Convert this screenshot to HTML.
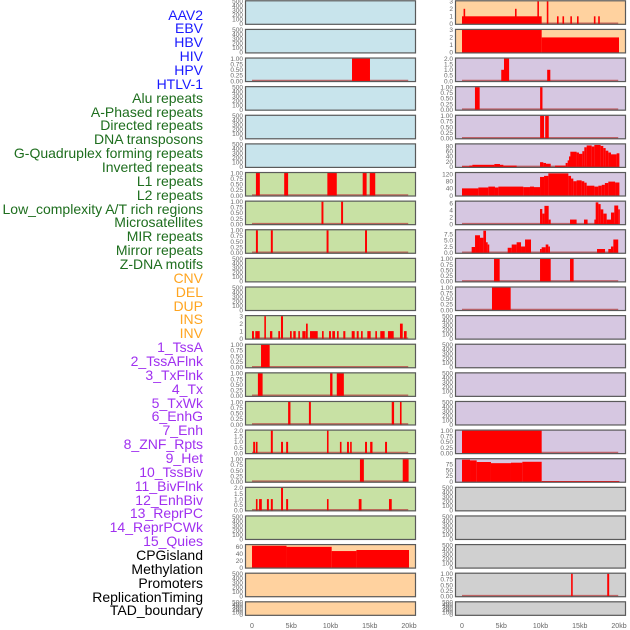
<!DOCTYPE html>
<html><head><meta charset="utf-8">
<style>
html,body{margin:0;padding:0;background:#fff;}
#wrap{position:relative;width:630px;height:630px;overflow:hidden;}
.lbl{position:absolute;right:427px;font-family:"Liberation Sans",sans-serif;font-size:14px;line-height:14px;white-space:nowrap;}
svg{position:absolute;left:0;top:0;}
</style></head>
<body>
<div id="wrap">
<svg id="chart" width="630" height="630"></svg>
</div>
<script>
// ---- labels ----
const labelNames = ["AAV2","EBV","HBV","HIV","HPV","HTLV-1","Alu repeats","A-Phased repeats","Directed repeats","DNA transposons","G-Quadruplex forming repeats","Inverted repeats","L1 repeats","L2 repeats","Low_complexity A/T rich regions","Microsatellites","MIR repeats","Mirror repeats","Z-DNA motifs","CNV","DEL","DUP","INS","INV","1_TssA","2_TssAFlnk","3_TxFlnk","4_Tx","5_TxWk","6_EnhG","7_Enh","8_ZNF_Rpts","9_Het","10_TssBiv","11_BivFlnk","12_EnhBiv","13_ReprPC","14_ReprPCWk","15_Quies","CPGisland","Methylation","Promoters","ReplicationTiming","TAD_boundary"];
const labelGroups = [6,13,5,15,5];
const groupColors = ["#1a1aff","#1e6e1e","#ffa520","#a030f0","#000000"];

// ---- x axis ----
const xTicks = [0,5,10,15,20];
const xTickLabels = ["0","5kb","10kb","15kb","20kb"];

// ---- track data: [start_kb, end_kb, value] ----
const leftHIV = [[12.74,15.03,1]];
const leftL1 = [[0.5,1.0,1],[4.1,4.6,1],[9.6,10.8,1],[14.1,14.6,1],[15.0,15.7,1]];
const leftL2 = [[8.85,9.1,1],[11.35,11.6,1]];
const leftLow = [[0.5,0.75,1],[2.4,2.65,1],[9.5,9.75,1],[14.4,14.65,1]];
const leftINS = [[0,0.25,1],[0.42,0.98,1],[1.57,1.75,3],[2.29,2.59,1],[3.35,3.57,1],[3.69,3.95,3],[4.84,5.06,1],[5.26,5.57,1],[5.9,6.08,1],[6.41,6.84,1],[6.88,7.1,2],[7.39,8.37,1],[8.92,9.13,1],[9.81,10.06,1],[10.23,10.57,1],[10.83,11.04,1],[11.63,11.89,1],[12.7,13.08,1],[13.34,13.59,1],[13.89,14.1,1],[14.69,15.12,1],[15.71,15.92,1],[16.34,16.9,1],[17.32,18.05,1],[18.85,19.2,2],[19.36,19.7,1]];
const leftINV = [[1.15,2.25,1]];
const leftTssA = [[0.75,1.35,1],[9.95,10.25,1],[10.8,11.7,1]];
const leftTssAFlnk = [[4.6,4.9,1],[7.25,7.5,1],[17.8,18.1,1],[18.85,19.05,1]];
const leftTxFlnk = [[0.15,0.4,1],[0.5,0.7,1],[2.4,2.65,2],[3.7,3.95,1],[4.35,4.6,1],[9.55,9.75,2],[11.2,11.4,1],[12.1,12.35,1],[12.5,12.7,1],[14.4,14.65,1],[15.05,15.35,1],[16.95,17.2,1]];
const leftTx = [[13.75,14.25,1],[19.2,19.95,1]];
const leftTxWk = [[0.5,0.7,1],[0.9,1.25,1],[1.9,2.15,1],[2.4,2.65,1],[3.7,3.95,2],[4.35,4.6,1],[9.55,9.75,1],[13.6,13.95,1],[17.45,17.8,1]];
const leftCPG = [[0,4.4,62],[4.4,10.15,59],[10.15,13.3,47],[13.3,20,50]];

const rightA0 = [[0,10.15,1],[0.2,0.3,2],[6.75,6.9,2],[9.6,9.7,3],[10.8,11.0,3],[12.1,12.3,1],[12.8,13.0,1],[13.8,14.0,1],[14.65,14.85,1],[16.8,17.0,1],[17.35,17.55,1]];
const rightA1 = [[0,10.15,3],[10.15,20,2]];
const rightA2 = [[5.0,5.35,1],[5.35,6.0,2],[10.85,11.25,1]];
const rightA3 = [[1.65,2.25,1],[9.95,10.25,1]];
const rightA4 = [[9.95,10.45,1],[10.6,11.05,1]];
const rightA5 = [[0,0.93,2],[0.93,1.32,5],[1.32,4.12,8],[4.12,4.84,11],[4.84,5.27,8],[5.27,6.96,5],[9.94,10.36,18],[10.36,10.7,15],[10.7,11.3,12],[11.85,13.2,5],[13.2,13.46,15],[13.46,13.63,25],[13.63,13.8,40],[13.8,14.6,58],[14.6,14.9,55],[14.9,15.33,50],[15.33,15.58,60],[15.58,15.88,75],[15.88,16.52,82],[16.52,16.86,78],[16.86,17.66,84],[17.66,18.0,80],[18.0,18.3,72],[18.3,18.64,62],[18.64,18.98,55],[18.98,19.7,48],[19.7,20.05,52]];
const rightA6 = [[0,2.08,40],[2.08,3.35,45],[3.35,4.2,50],[4.2,4.63,45],[4.63,7.81,50],[7.81,8.66,47],[8.66,9.17,50],[9.17,9.94,47],[9.94,10.45,104],[10.45,11.0,110],[11.0,13.55,124],[13.55,13.89,110],[13.89,14.18,95],[14.18,14.6,80],[14.6,15.24,85],[15.24,15.58,80],[15.58,15.88,72],[15.88,16.86,55],[16.86,17.37,50],[17.37,17.8,55],[17.8,18.2,60],[18.2,18.64,70],[18.64,19.5,78],[19.5,20.05,73]];
const rightA7 = [[9.94,10.23,4.3],[10.23,10.5,3],[10.5,11.04,5.2],[11.04,11.3,1.3],[13.76,14.6,1.3],[15.54,16.0,1.3],[16.86,17.03,1.3],[17.03,17.37,6.2],[17.37,17.66,5.7],[17.66,18.0,4.2],[18.0,18.43,3],[18.43,18.98,1.3],[18.98,19.4,3.3],[19.4,19.9,5.3],[19.9,20.05,4.2]];
const rightA8 = [[1.23,1.66,2.3],[1.66,2.29,7],[2.29,2.72,6],[2.72,3.06,8.8],[3.06,3.27,4.2],[3.27,3.44,3.3],[5.82,6.33,2],[6.33,6.96,3.3],[6.96,7.52,4.2],[7.52,8.03,2.5],[8.03,8.79,5.3],[9.94,10.15,1.5],[10.15,10.66,2.2],[10.66,11.0,3.3],[11.0,11.17,2.5],[17.2,18.22,1.5],[18.64,18.98,1.5],[18.98,19.28,2.5],[19.28,19.9,5.3]];
const rightA9 = [[4.08,4.8,1],[9.94,11.3,1],[13.76,14.22,1]];
const rightA10 = [[3.82,6.2,1]];
const rightA15 = [[0,10.15,1]];
const rightA16 = [[0,1.02,95],[1.02,1.87,92],[1.87,3.69,85],[3.69,6.24,80],[6.24,7.69,82],[7.69,10.15,86],[10.15,20.05,3]];
const rightA20 = [[13.9,14.1,1],[18.5,18.75,1]];

// ---- y tick sets ----
const tEmpty = [0,100,200,300,400,500];
const tBin = [0,0.25,0.5,0.75,1];
const t3 = [0,1,2,3];
const t2 = [0,0.5,1,1.5,2];

const BLUE="#c8e4ec", GREEN="#c8e1a4", PEACH="#ffd29f", PURPLE="#d6c7e1", GREY="#d0d0d0";
// column, row, bg, data, ymax, ticks, tick decimals, baseline
const panels = [];
function P(col,row,bg,data,ymax,ticks,dec,base){panels.push({col,row,bg,data,ymax,ticks,dec,base});}
for(let r=0;r<6;r++) P(0,r,BLUE,null,500,tEmpty,0,false);
panels[2]={col:0,row:2,bg:BLUE,data:leftHIV,ymax:1,ticks:tBin,dec:2,base:true};
for(let r=6;r<19;r++) P(0,r,GREEN,null,500,tEmpty,0,false);
function setL(row,data,ymax,ticks,dec){const p=panels.find(q=>q.col===0&&q.row===row);p.data=data;p.ymax=ymax;p.ticks=ticks;p.dec=dec;p.base=true;}
setL(6,leftL1,1,tBin,2);setL(7,leftL2,1,tBin,2);setL(8,leftLow,1,tBin,2);
setL(11,leftINS,3,t3,0);setL(12,leftINV,1,tBin,2);setL(13,leftTssA,1,tBin,2);
setL(14,leftTssAFlnk,1,tBin,2);setL(15,leftTxFlnk,2,t2,1);setL(16,leftTx,1,tBin,2);setL(17,leftTxWk,2,t2,1);
P(0,19,PEACH,leftCPG,64,[0,20,40,60],0,false);
P(0,20,PEACH,null,500,tEmpty,0,false);
P(0,21,PEACH,null,500,tEmpty,0,false);
P(1,0,PEACH,rightA0,3,t3,0,true);
P(1,1,PEACH,rightA1,3,t3,0,false);
for(let r=2;r<17;r++) P(1,r,PURPLE,null,500,tEmpty,0,false);
for(let r=17;r<22;r++) P(1,r,GREY,null,500,tEmpty,0,false);
function setR(row,data,ymax,ticks,dec,base){const p=panels.find(q=>q.col===1&&q.row===row);p.data=data;p.ymax=ymax;p.ticks=ticks;p.dec=dec;p.base=base;}
setR(2,rightA2,2,t2,1,true);setR(3,rightA3,1,tBin,2,true);setR(4,rightA4,1,tBin,2,true);
setR(5,rightA5,86,[0,20,40,60,80],0,true);setR(6,rightA6,126,[0,40,80,120],0,false);
setR(7,rightA7,6.4,[0,2,4,6],0,true);setR(8,rightA8,9,[0,2.5,5,7.5],1,true);
setR(9,rightA9,1,tBin,2,true);setR(10,rightA10,1,tBin,2,true);
setR(15,rightA15,1,tBin,2,true);setR(16,rightA16,97,[0,25,50,75],0,false);
setR(20,rightA20,1,tBin,2,true);

const NS="http://www.w3.org/2000/svg";
const svg=document.getElementById('chart');
const colL=[245,455], colW=171, dataL=[252,462], dataW=157;
function xs(col,kb){return dataL[col]+kb/20*dataW;}
function mk(tag,attrs){const e=document.createElementNS(NS,tag);for(const k in attrs)e.setAttribute(k,attrs[k]);svg.appendChild(e);return e;}

panels.forEach(p=>{
  const top=0.3+28.62*p.row;
  const h=p.row===21?14.5:24.5;
  const x0=colL[p.col];
  const y0=top+h-1, y1=top+1;
  const ys=v=>y0-(v/p.ymax)*(y0-y1);
  const bg=mk('rect',{x:x0,y:top,width:colW,height:h,fill:p.bg,stroke:'none'});
  
  
  if(p.base){
    const ln=mk('line',{x1:xs(p.col,0),x2:xs(p.col,19.9),y1:y0-0.5,y2:y0-0.5,stroke:'#b84040','stroke-width':1.6,'stroke-opacity':0.75});
    
    
  }
  if(p.data){
    p.data.forEach(d=>{
      const xa=xs(p.col,d[0]), xb=xs(p.col,d[1]);
      const w=Math.max(xb-xa,1.6);
      const yt=Math.max(ys(d[2]),y1);
      const r=mk('rect',{x:xa,y:yt,width:w,height:y0-yt+0.5,fill:'#ff0000'});
      
      
    });
  }
  const bd=mk('rect',{x:x0+0.5,y:top+0.5,width:colW-1,height:h-1,fill:'none',stroke:'#5a5a5a','stroke-width':1.2});
  
  
  p.ticks.forEach(t=>{
    const tx=mk('text',{x:x0-2,y:ys(t)+2.3,'text-anchor':'end','font-family':'Liberation Sans, sans-serif','font-size':6.5,fill:'#6a6a6a'});
    tx.textContent=t.toFixed(p.dec);
    
    
  });
});
[0,1].forEach(c=>{
  xTicks.forEach((t,i)=>{
    const tx=mk('text',{x:xs(c,t),y:628,'text-anchor':'middle','font-family':'Liberation Sans, sans-serif','font-size':7,fill:'#666'});
    tx.textContent=xTickLabels[i];
    
    
  });
});

// labels
const wrap=document.getElementById('wrap');
let gi=0, cnt=0;
labelNames.forEach((n,i)=>{
  while(cnt>=labelGroups[gi]){gi++;cnt=0;}
  cnt++;
  const d=document.createElement('div');
  d.className='lbl';
  d.style.top=(15+13.86*i-7.5)+'px';
  d.style.color=groupColors[gi];
  d.textContent=n;
  
  
  wrap.appendChild(d);
});
</script>
</body></html>
